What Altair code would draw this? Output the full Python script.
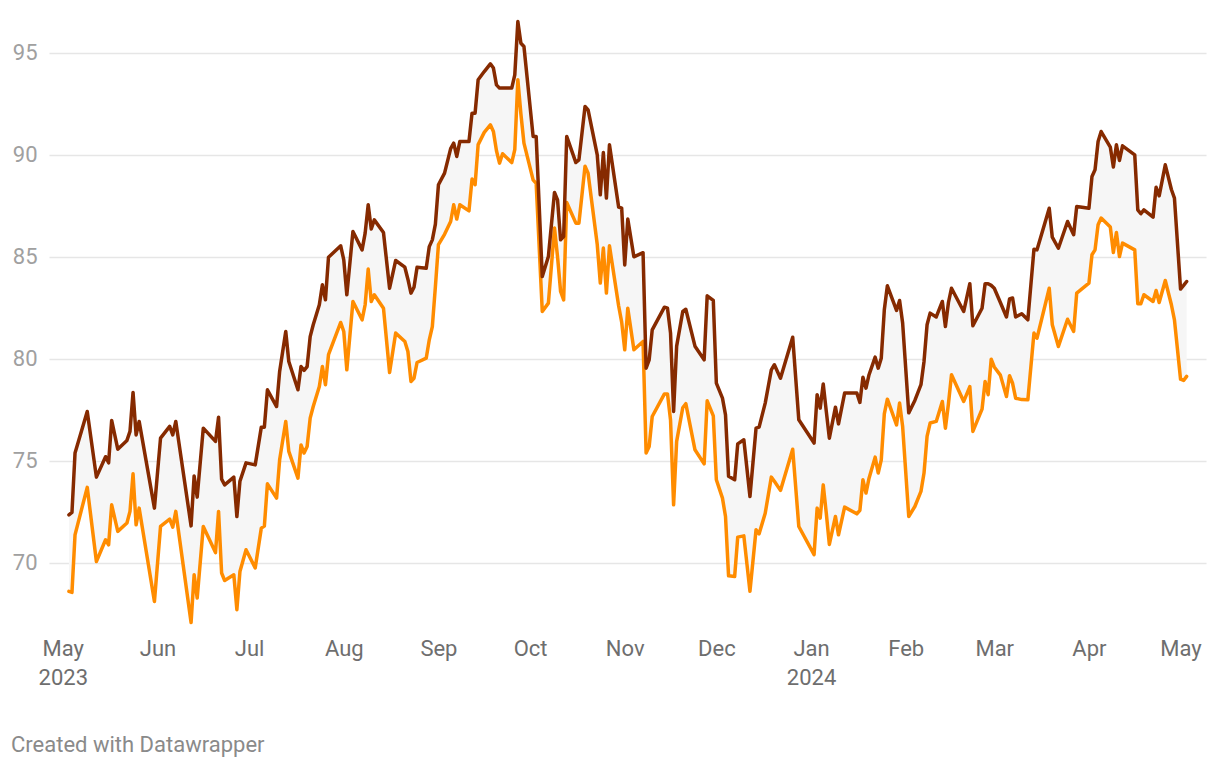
import altair as alt
import pandas as pd

# Day offsets from 2023-05-01 (trading-day vertices)
day_offsets = [
    2, 3, 4, 8, 11, 14, 15, 16, 18, 21, 22, 23, 24, 25, 30, 32, 35, 36, 37, 42,
    43, 44, 46, 50, 51, 52, 53, 56, 57, 58, 60, 63, 65, 66, 67, 70, 71, 73, 74, 77,
    78, 79, 80, 81, 82, 84, 85, 86, 87, 91, 92, 93, 95, 98, 99, 100, 101, 102, 105, 107,
    109, 112, 113, 114, 115, 116, 119, 120, 121, 122, 123, 125, 127, 128, 129, 130, 133, 134, 135, 136,
    138, 140, 141, 142, 143, 144, 147, 148, 149, 150, 151, 154, 155, 157, 159, 161, 162, 163, 164, 165,
    168, 169, 171, 172, 175, 176, 177, 178, 179, 182, 183, 184, 185, 187, 190, 191, 192, 193, 197, 198,
    199, 200, 201, 203, 204, 207, 210, 211, 213, 214, 216, 217, 218, 220, 221, 223, 225, 227, 228, 230,
    232, 233, 235, 239, 241, 246, 247, 248, 249, 250, 251, 253, 254, 256, 260, 261, 262, 263, 264, 266,
    267, 268, 269, 270, 273, 274, 275, 277, 279, 281, 282, 283, 284, 286, 288, 289, 290, 291, 295, 297,
    298, 301, 302, 303, 304, 305, 307, 309, 310, 311, 312, 314, 316, 318, 319, 323, 324, 326, 329, 331,
    332, 336, 337, 338, 339, 340, 343, 344, 345, 346, 347, 351, 352, 353, 354, 357, 358, 359, 361, 363,
    364, 366, 367, 368,
]

upper = [
    72.35, 72.47, 75.38, 77.42, 74.2, 75.2, 74.9, 76.98, 75.57, 76.0, 76.44, 78.35, 76.27, 76.93, 72.68, 76.11, 76.69, 76.27, 76.93, 71.81,
    74.26, 73.22, 76.6, 75.95, 77.14, 74.1, 73.82, 74.2, 72.27, 74.0, 74.9, 74.8, 76.65, 76.65, 78.48, 77.66, 79.38, 81.34, 79.87, 78.48,
    79.62, 79.43, 79.62, 81.09, 81.67, 82.65, 83.63, 82.89, 84.98, 85.54, 84.85, 83.14, 86.24, 85.34, 86.16, 87.55, 86.36, 86.81, 86.19, 83.46,
    84.82, 84.49, 83.9, 83.22, 83.51, 84.49, 84.44, 85.5, 85.83, 86.6, 88.53, 89.1, 90.3, 90.57, 89.92, 90.65, 90.65, 92.04, 92.04, 93.68,
    94.08, 94.46, 94.25, 93.43, 93.27, 93.27, 93.27, 93.92, 96.53, 95.47, 95.31, 90.9, 90.9, 84.03, 85.01, 88.15, 87.79, 85.83, 85.99, 90.9,
    89.62, 89.75, 92.37, 92.2, 90.0, 88.04, 90.11, 87.88, 90.49, 87.44, 87.39, 84.6, 86.85, 85.0, 85.2, 79.54, 79.95, 81.42, 82.53, 82.48,
    81.26, 77.42, 80.62, 82.32, 82.43, 80.62, 79.95, 83.09, 82.86, 78.81, 78.07, 77.25, 74.24, 74.07, 75.83, 76.03, 73.25, 76.6, 76.65, 77.83,
    79.46, 79.71, 79.05, 81.06, 77.01, 75.87, 78.24, 77.58, 78.77, 77.42, 76.11, 77.63, 76.81, 78.32, 78.32, 77.86, 79.1, 78.56, 79.22, 80.08,
    79.54, 80.03, 82.4, 83.58, 82.37, 82.86, 81.75, 77.35, 77.96, 78.73, 79.87, 81.67, 82.24, 82.05, 82.81, 81.58, 82.76, 83.46, 82.32, 83.68,
    81.62, 82.48, 83.68, 83.68, 83.6, 83.46, 82.76, 82.05, 82.93, 82.98, 82.05, 82.21, 81.91, 85.37, 85.34, 87.38, 85.96, 85.42, 86.73, 86.08,
    87.47, 87.38, 88.94, 89.27, 90.65, 91.14, 90.38, 89.4, 90.49, 89.72, 90.44, 90.0, 87.3, 87.11, 87.3, 86.94, 88.41, 87.99, 89.51, 88.3,
    87.88, 83.42, 83.6, 83.79,
]

lower = [
    68.6, 68.55, 71.37, 73.7, 70.06, 71.13, 70.88, 72.84, 71.54, 71.95, 72.52, 74.36, 71.86, 72.68, 68.1, 71.78, 72.14, 71.75, 72.52, 67.07,
    69.41, 68.27, 71.78, 70.5, 72.52, 69.5, 69.13, 69.41, 67.7, 69.57, 70.64, 69.75, 71.7, 71.8, 73.87, 73.17, 75.05, 76.93, 75.46, 74.15,
    75.78, 75.38, 75.7, 77.09, 77.66, 78.64, 79.62, 78.73, 80.2, 81.78, 81.34, 79.46, 82.81, 81.91, 82.65, 84.4, 82.81, 83.14, 82.48, 79.33,
    81.26, 80.85, 80.36, 78.89, 79.05, 79.82, 80.03, 80.93, 81.58, 83.54, 85.6, 86.1, 86.73, 87.55, 86.85, 87.55, 87.25, 88.81, 88.53, 90.5,
    91.1, 91.47, 91.14, 90.2, 89.59, 90.05, 89.62, 90.25, 93.68, 92.0, 90.57, 88.77, 88.6, 82.32, 82.73, 86.41, 85.0, 83.3, 82.89, 87.66,
    86.65, 86.65, 89.44, 89.1, 85.6, 83.71, 85.43, 83.22, 85.54, 82.6, 81.8, 80.44, 82.48, 80.44, 80.85, 75.38, 75.7, 77.17, 78.28, 78.28,
    77.0, 72.84, 75.95, 77.6, 77.8, 75.54, 74.85, 77.94, 77.2, 74.07, 73.17, 72.27, 69.36, 69.33, 71.26, 71.32, 68.6, 71.62, 71.42, 72.43,
    74.2, 74.0, 73.55, 75.57, 71.78, 70.4, 72.68, 72.19, 73.82, 72.43, 70.9, 72.27, 71.37, 72.73, 72.4, 72.57, 74.07, 73.42, 74.15, 75.18,
    74.4, 75.05, 77.3, 78.02, 76.76, 77.83, 76.68, 72.27, 72.76, 73.5, 74.4, 76.2, 76.85, 76.93, 77.91, 76.6, 77.8, 79.22, 77.91, 78.64,
    76.44, 77.53, 78.89, 78.24, 79.98, 79.6, 79.2, 78.15, 79.17, 78.8, 78.07, 78.0, 77.99, 81.26, 81.01, 83.46, 81.67, 80.6, 81.94, 81.34,
    83.22, 83.71, 85.1, 85.34, 86.57, 86.9, 86.46, 85.21, 86.19, 85.01, 85.67, 85.34, 82.7, 82.7, 83.14, 82.81, 83.35, 82.76, 83.84, 82.65,
    81.91, 79.0, 78.94, 79.14,
]

y_ticks = [70, 75, 80, 85, 90, 95]
credit = "Created with Datawrapper"

dates = (pd.Timestamp("2023-05-01") + pd.to_timedelta(day_offsets, unit="D")).strftime("%Y-%m-%d")
df = pd.DataFrame({"date": dates, "upper": upper, "lower": lower})

month_ticks = [alt.DateTime(year=2023, month=m, date=1, utc=True) for m in range(5, 13)] + \
              [alt.DateTime(year=2024, month=m, date=1, utc=True) for m in range(1, 6)]

x_scale = alt.Scale(
    type="utc",
    nice=False,
    domain=[
        alt.DateTime(year=2023, month=4, date=26, hours=11, minutes=30, utc=True),
        alt.DateTime(year=2024, month=5, date=9, hours=8, utc=True),
    ],
)
y_scale = alt.Scale(domain=[67, 97], nice=False, zero=False)

label_expr = (
    "(utcFormat(datum.value, '%m') == '01' || utcFormat(datum.value, '%Y-%m') == '2023-05') "
    "? [utcFormat(datum.value, '%b'), utcFormat(datum.value, '%Y')] : utcFormat(datum.value, '%b')"
)

x_enc = alt.X(
    "date:T",
    scale=x_scale,
    axis=alt.Axis(
        values=month_ticks,
        labelExpr=label_expr,
        title=None,
        grid=False,
        ticks=False,
        domain=False,
        labelFont="Roboto",
        labelFontSize=22,
        labelColor="#6e6e6e",
        labelPadding=14,
        labelLineHeight=29,
        labelOverlap=False,
        labelFlush=False,
    ),
)

y_axis = alt.Axis(
    values=y_ticks,
    title=None,
    grid=True,
    gridColor="#e6e6e6",
    gridWidth=1.5,
    ticks=False,
    domain=False,
    labelFont="Roboto",
    labelFontSize=22,
    labelColor="#a0a0a0",
    labelPadding=12,
)

base = alt.Chart(df)

band = base.mark_area(color="#f6f6f6").encode(
    x=x_enc,
    y=alt.Y("upper:Q", scale=y_scale, axis=y_axis),
    y2="lower:Q",
)

line_lower = base.mark_line(color="#ff8c00", strokeWidth=3.5, strokeJoin="round", strokeCap="round").encode(
    x=x_enc,
    y=alt.Y("lower:Q", scale=y_scale),
)

line_upper = base.mark_line(color="#862a00", strokeWidth=3.5, strokeJoin="round", strokeCap="round").encode(
    x=x_enc,
    y=alt.Y("upper:Q", scale=y_scale),
)

credit_text = alt.Chart(pd.DataFrame({"t": [credit]})).mark_text(
    align="left", baseline="alphabetic", font="Roboto", fontSize=22, color="#8a8a8a"
).encode(text="t:N", x=alt.value(-38), y=alt.value(740))

chart = alt.layer(band, line_lower, line_upper, credit_text).properties(
    width=1157,
    height=612,
    autosize=alt.AutoSizeParams(type="none"),
    padding={"left": 41, "top": 4, "right": 6, "bottom": 140},
    background="white",
).configure_view(stroke=None)

chart.save("out.html", embed_options={"renderer": "svg", "actions": False})
